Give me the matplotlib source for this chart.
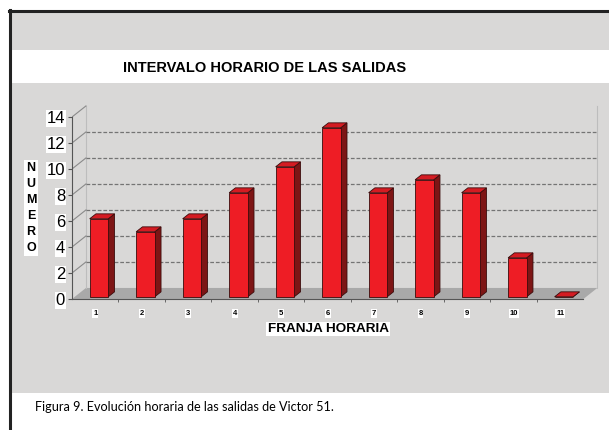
import numpy as np
import matplotlib.pyplot as plt
from matplotlib.patches import Polygon, Rectangle
from matplotlib.lines import Line2D

# data
franjas = ['1', '2', '3', '4', '5', '6', '7', '8', '9', '10', '11']
salidas = [6, 5, 6, 8, 10, 13, 8, 9, 8, 3, 0]
y_ticks = [0, 2, 4, 6, 8, 10, 12, 14]

W, H = 609, 430
fig = plt.figure(figsize=(W / 100, H / 100), dpi=100)
fig.patch.set_facecolor('white')

def fx(px):
    return px / W

def fy(py):
    return 1 - py / H

bg = '#d9d8d7'
# scanned page bands
fig.patches.append(Rectangle((fx(10), fy(50)), 1, fy(12) - fy(50), transform=fig.transFigure,
                             facecolor=bg, edgecolor='none', zorder=-2))
fig.patches.append(Rectangle((fx(10), fy(393)), 1, fy(83) - fy(393), transform=fig.transFigure,
                             facecolor=bg, edgecolor='none', zorder=-2))
fig.lines.append(Line2D([fx(9), 1], [fy(11), fy(11)], transform=fig.transFigure, color='#222', lw=2.2))
fig.lines.append(Line2D([fx(10), fx(10)], [fy(10), 0], transform=fig.transFigure, color='#222', lw=2.2))

# plot area: y=0 at px 299, 13 px per unit
ax = fig.add_axes([fx(72), (H - 299) / H, 530 / W, 195 / H])
ax.set_xlim(0.5, 11.9)
ax.set_ylim(0, 15)
ax.patch.set_alpha(0)

dx, dy = 0.3, 0.85   # depth of the 3d box
x = np.arange(1, len(salidas) + 1)

# floor
ax.add_patch(Polygon([(0.5, 0), (11.5, 0), (11.5 + dx, dy), (0.5 + dx, dy)],
                     closed=True, facecolor='#a9a9a9', edgecolor='none', zorder=0.5))
# walls edges
ax.plot([0.5 + dx, 0.5 + dx], [dy, 14 + dy], color='#bdbdbd', lw=0.8, zorder=0.6)
ax.plot([11.5 + dx, 11.5 + dx], [dy, 14 + dy], color='#bdbdbd', lw=0.8, zorder=0.6)

# gridlines
for v in y_ticks[1:]:
    ax.plot([0.5, 0.5 + dx], [v, v + dy], color='#8a8a8a', lw=0.8, zorder=1)
    if v < 14:
        ax.plot([0.5 + dx, 11.5 + dx], [v + dy, v + dy], color='#747474', lw=0.9,
                ls=(0, (3, 1.5)), zorder=1)

# bars
red, top_red, side_red, edge = '#ee1d25', '#d41b22', '#7d1515', '#3a0c0c'
ox, oy, w = 0.08, 0.17, 0.4
bx, by = 0.135, 0.38
ax.bar(x + ox, salidas, width=w, bottom=oy, color=red, edgecolor=edge, lw=0.6, zorder=3)
for xi, v in zip(x, salidas):
    x1 = xi + ox + w / 2
    x0 = xi + ox - w / 2
    ax.add_patch(Polygon([(x1, oy), (x1 + bx, oy + by), (x1 + bx, oy + v + by), (x1, oy + v)],
                         closed=True, facecolor=side_red, edgecolor=edge, lw=0.6, zorder=2.9))
    ax.add_patch(Polygon([(x0, oy + v), (x1, oy + v), (x1 + bx, oy + v + by), (x0 + bx, oy + v + by)],
                         closed=True, facecolor=top_red, edgecolor=edge, lw=0.6, zorder=3.1))

# axes
for s in ['top', 'right']:
    ax.spines[s].set_visible(False)
ax.spines['left'].set_bounds(0, 14)
ax.spines['bottom'].set_bounds(0.5, 11.5)
ax.spines['left'].set_color('#555555')
ax.spines['bottom'].set_color('#555555')
ax.set_yticks(y_ticks)
ax.set_yticklabels([str(t) for t in y_ticks], fontsize=12, family='Liberation Sans')
ax.tick_params(axis='y', length=3, pad=2, color='#555555')
ax.set_xticks(x)
ax.set_xticklabels(franjas, fontsize=5.5, fontweight='bold', family='Liberation Sans')
ax.tick_params(axis='x', length=0, pad=8)
ax.set_xticks(np.arange(1.5, 11.5, 1), minor=True)
ax.tick_params(axis='x', which='minor', length=2, color='#555555')
for lab in ax.get_yticklabels() + ax.get_xticklabels():
    lab.set_bbox(dict(facecolor='white', edgecolor='none', pad=0.5))

# texts
fig.text(fx(265), fy(68), 'INTERVALO HORARIO DE LAS SALIDAS', ha='center', va='center',
         fontsize=10.5, fontweight='bold', family='Liberation Sans')
fig.text(fx(31), fy(208), '\n'.join('NUMERO'), ha='center', va='center', fontsize=9,
         fontweight='bold', family='Liberation Sans', linespacing=1.45,
         bbox=dict(facecolor='white', edgecolor='none', pad=1.5))
fig.text(fx(328), fy(329), 'FRANJA HORARIA', ha='center', va='center', fontsize=9.7,
         fontweight='bold', family='Liberation Sans',
         bbox=dict(facecolor='white', edgecolor='none', pad=1))
fig.text(fx(35), fy(407), 'Figura 9. Evolución horaria de las salidas de Victor 51.',
         ha='left', va='center', fontsize=9.1, family='Lato')

fig.savefig('out.png', dpi=100)
